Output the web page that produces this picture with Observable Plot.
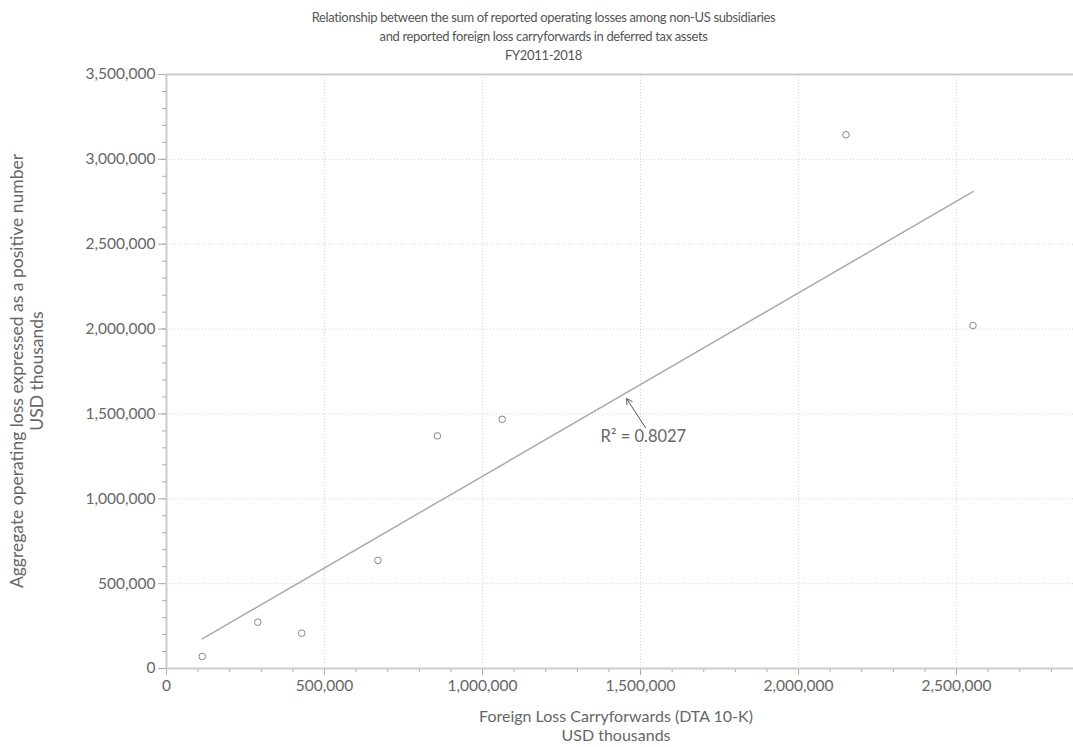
<!DOCTYPE html>
<html>
<head>
<meta charset="utf-8">
<script src="https://cdn.jsdelivr.net/npm/d3@7"></script>
<script src="https://cdn.jsdelivr.net/npm/@observablehq/plot@0.6"></script>
<style>
  html, body { margin: 0; padding: 0; background: #fff; }
  #wrap { position: relative; width: 1073px; height: 747px; overflow: hidden; font-family: Lato, "Open Sans", sans-serif; color: #666; }
  #title { position: absolute; left: 0; top: 8px; width: 1087px; text-align: center; font-size: 13px; letter-spacing: -0.35px; line-height: 19px; color: #555; }
  #xlab { position: absolute; left: 0; top: 706px; width: 1232px; text-align: center; font-size: 16px; line-height: 19px; }
  #ylab { position: absolute; left: 27px; top: 371px; width: 700px; margin-left: -350px; margin-top: -20px; text-align: center; font-size: 17.5px; line-height: 20px; transform: rotate(-90deg); transform-origin: 50% 50%; }
  #chart { position: absolute; left: 0; top: 0; }
</style>
</head>
<body>
<div id="wrap">
  <div id="chart"></div>
  <div id="title">Relationship between the sum of reported operating losses among non-US subsidiaries<br>and reported foreign loss carryforwards in deferred tax assets<br>FY2011-2018</div>
  <div id="ylab">Aggregate operating loss expressed as a positive number<br>USD thousands</div>
  <div id="xlab">Foreign Loss Carryforwards (DTA 10-K)<br>USD thousands</div>
</div>
<script>
// Data (USD thousands)
const lossCarryforwards = [113000, 289000, 428000, 669000, 857000, 1062000, 2150000, 2552000];
const operatingLosses   = [71000, 273000, 208000, 637000, 1371000, 1468000, 3145000, 2021000];
const xMajorTicks = [0, 500000, 1000000, 1500000, 2000000, 2500000];
const xMinorTicks = d3.range(0, 2900000, 100000);
const yMajorTicks = [0, 500000, 1000000, 1500000, 2000000, 2500000, 3000000, 3500000];
const yMinorTicks = d3.range(0, 3600000, 100000);
const rSquaredLabel = "R\u00B2 = 0.8027";
const annotation = {x1: 1516000, y1: 1418000, x2: 1456000, y2: 1590000, tx: 1509000, ty: 1364000};

const data = lossCarryforwards.map((x, i) => ({x, y: operatingLosses[i]}));
const fmt = d3.format(",");

const plot = Plot.plot({
  width: 1073,
  height: 747,
  marginLeft: 166,
  marginRight: 0,
  marginTop: 74,
  marginBottom: 79,
  style: {fontFamily: "Lato, 'Open Sans', sans-serif", fontSize: "15px", color: "#666", background: "#fff"},
  x: {domain: [0, 2870000]},
  y: {domain: [0, 3500000]},
  marks: [
    Plot.gridX(xMajorTicks.filter(d => d > 0), {stroke: "#d4d4d4", strokeOpacity: 1, strokeDasharray: "1,2"}),
    Plot.gridY(yMajorTicks.filter(d => d > 0 && d < 3500000), {stroke: "#d4d4d4", strokeOpacity: 1, strokeDasharray: "1,2"}),
    Plot.axisX(xMinorTicks, {tickSize: 4, tickFormat: () => "", stroke: "#aaa", label: null}),
    Plot.axisX(xMajorTicks, {tickSize: 7, tickPadding: 4, tickFormat: fmt, stroke: "#aaa", fill: "#666", fontSize: 15.5, label: null}),
    Plot.axisY(yMinorTicks, {tickSize: 4, tickFormat: () => "", stroke: "#aaa", label: null}),
    Plot.axisY(yMajorTicks, {tickSize: 8, tickPadding: 3, tickFormat: fmt, stroke: "#aaa", fill: "#666", fontSize: 15.5, label: null}),
    Plot.ruleY([0], {stroke: "#cccccc", strokeWidth: 2}),
    Plot.ruleY([3500000], {stroke: "#cccccc", strokeWidth: 2}),
    Plot.ruleX([0], {stroke: "#cccccc", strokeWidth: 2}),
    Plot.linearRegressionY(data, {x: "x", y: "y", ci: 0, stroke: "#aaa", strokeWidth: 1.5}),
    Plot.dot(data, {x: "x", y: "y", r: 3.3, stroke: "#888", fill: "none", strokeWidth: 1}),
    Plot.arrow([annotation], {x1: "x1", y1: "y1", x2: "x2", y2: "y2", stroke: "#555", strokeWidth: 1, headLength: 9}),
    Plot.text([annotation], {x: "tx", y: "ty", text: () => rSquaredLabel, fill: "#666", fontSize: 16.5, textAnchor: "middle"})
  ]
});
document.getElementById("chart").appendChild(plot);
</script>
</body>
</html>
